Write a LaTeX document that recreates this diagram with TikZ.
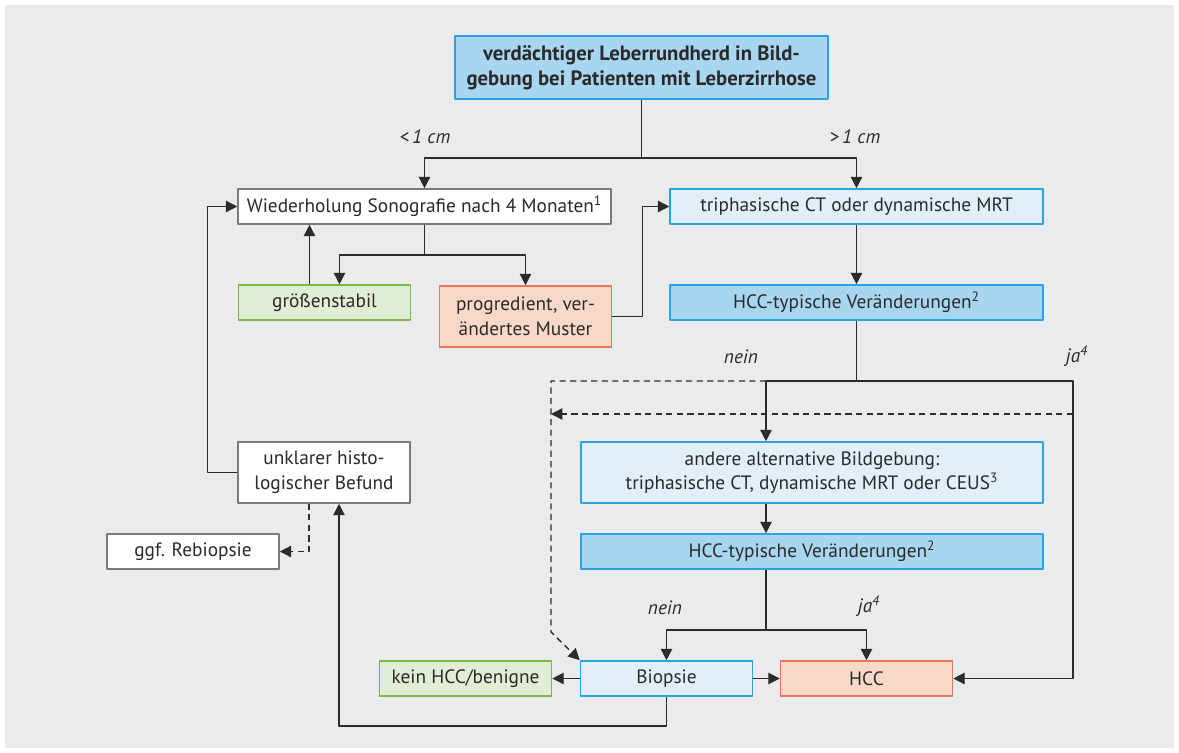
\documentclass[tikz,border=0pt]{standalone}
\usepackage{fontspec}
\setmainfont{PT Sans}
\usepackage{xcolor}
\usetikzlibrary{arrows.meta, calc}

\definecolor{bggray}{HTML}{EBEBED}
\definecolor{txt}{HTML}{2A2A2A}
\definecolor{linecol}{HTML}{2B2B2B}
\definecolor{bluedark}{HTML}{A8D5F0}
\definecolor{bluelight}{HTML}{E1EFFA}
\definecolor{blueedge}{HTML}{2AA4DD}
\definecolor{greenfill}{HTML}{E2EDD5}
\definecolor{greenedge}{HTML}{7AB648}
\definecolor{orangefill}{HTML}{F8D9C7}
\definecolor{orangeedge}{HTML}{E8775A}
\definecolor{grayedge}{HTML}{7A7A7A}

\tikzset{
  box/.style={draw, line width=0.9pt, align=center, inner sep=2pt, text=txt,
    minimum height=0.7cm, font=\fontsize{11}{14}\selectfont},
  wide/.style={minimum width=7.46cm},
  small/.style={minimum width=3.44cm},
  boxdark/.style={box, fill=bluedark, draw=blueedge},
  boxlight/.style={box, fill=bluelight, draw=blueedge},
  boxwhite/.style={box, fill=white, draw=grayedge},
  boxgreen/.style={box, fill=greenfill, draw=greenedge},
  boxorange/.style={box, fill=orangefill, draw=orangeedge},
  conn/.style={line width=0.8pt, draw=linecol},
  arr/.style={conn, -{Triangle[length=6.5pt, width=6.5pt]}},
  dashline/.style={arr, dash pattern=on 3.5pt off 2.5pt},
  lbl/.style={text=txt, font=\itshape\fontsize{11}{12}\selectfont},
}

\begin{document}
\begin{tikzpicture}[x=0.02cm, y=-0.02cm, line join=round]
    \useasboundingbox (0,0) rectangle (1179,753);
    \fill[bggray] (5,5) rectangle (1174,748);

    % Boxes
    \node[boxdark, wide, minimum height=1.26cm, font=\bfseries\fontsize{11.8}{14.5}\selectfont] (verd) at (641.5,67.5)
        {verdächtiger Leberrundherd in Bild-\\gebung bei Patienten mit Leberzirrhose};
    \node[boxwhite, wide] (wdh) at (424.5,206.5) {Wiederholung Sonografie nach 4 Monaten\textsuperscript{1}};
    \node[boxlight, wide] (tri) at (856.5,206.5) {triphasische CT oder dynamische MRT};
    \node[boxgreen, small] (stabil) at (324.5,302.5) {größenstabil};
    \node[boxorange, small, minimum height=1.22cm] (prog) at (525.5,316.5) {progredient, ver-\\ändertes Muster};
    \node[boxdark, wide] (typ1) at (856.5,302.5) {HCC-typische Veränderungen\textsuperscript{2}};
    \node[boxwhite, small, minimum height=1.22cm] (unkl) at (324,472.5) {unklarer histo-\\logischer Befund};
    \node[boxwhite, small] (rebio) at (193,551.5) {ggf. Rebiopsie};
    \node[boxlight, minimum width=9.24cm, minimum height=1.22cm] (alt) at (812,472.5)
        {andere alternative Bildgebung:\\triphasische CT, dynamische MRT oder CEUS\textsuperscript{3}};
    \node[boxdark, minimum width=9.24cm] (typ2) at (812,551.5) {HCC-typische Veränderungen\textsuperscript{2}};
    \node[boxgreen, small] (kein) at (465.5,678.5) {kein HCC/benigne};
    \node[boxlight, small] (biop) at (666.5,678.5) {Biopsie};
    \node[boxorange, small] (hcc) at (866.5,678.5) {HCC};

    % Junctions
    \coordinate (s1) at (641.5,158);
    \coordinate (s2) at (424.5,255);
    \coordinate (s3) at (856.5,381);
    \coordinate (a1) at (766,381);
    \coordinate (j1) at (1073,381);
    \coordinate (s4) at (766,630);
    \coordinate (b1) at (666.5,726);
    \coordinate (d1) at (551,381);
    \coordinate (d2) at (551,632);
    \coordinate (d3) at (1073,414);
    \coordinate (d4) at (551,414);

    % Size split
    \draw[conn] (verd.south) -- (s1);
    \draw[arr] (s1) -| (wdh.north);
    \draw[arr] (s1) -| (tri.north);
    \node[lbl] (lt) at (425,137) {<\,1 cm};
    \node[lbl] (gt) at (855,137) {>\,1 cm};

    % Sonography loop
    \draw[conn] (wdh.south) -- (s2);
    \draw[arr] (s2) -| ([xshift=0.3cm]stabil.north);
    \draw[arr] (s2) -| (prog.north);
    \draw[arr] ([xshift=-0.3cm]stabil.north) -- ([xshift=-0.3cm]stabil.north |- wdh.south);
    \draw[arr] (prog.east) -- ++(30,0) |- (tri.west);
    \draw[arr] (tri) -- (typ1);

    % First imaging result
    \draw[conn] (typ1.south) -- (s3) -- (a1);
    \draw[arr] (a1) -- (a1 |- alt.north);
    \draw[arr] (s3) -- (j1) |- (hcc.east);
    \draw[dashline] (a1) -- (d1) -- (d2) -- (biop.north west);
    \draw[dashline] (d3) -- (d4);
    \node[lbl] (nein1) at (741,357) {nein};
    \node[lbl] (ja1) at (1077,356) {ja\textsuperscript{4}};

    % Second imaging result
    \draw[arr] (alt.south -| a1) -- (typ2.north -| a1);
    \draw[conn] (typ2.south -| a1) -- (s4);
    \draw[arr] (s4) -| (biop.north);
    \draw[arr] (s4) -| (hcc.north);
    \node[lbl] (nein2) at (665,608) {nein};
    \node[lbl] (ja2) at (869,606) {ja\textsuperscript{4}};

    % Biopsy
    \draw[arr] (biop) -- (kein);
    \draw[arr] (biop) -- (hcc);
    \draw[arr] (biop.south) -- (b1) -| ([xshift=0.3cm]unkl.south);
    \draw[arr] (unkl.west) -- ++(-30,0) |- (wdh.west);
    \draw[dashline] ([xshift=-0.3cm]unkl.south) |- (rebio.east);
\end{tikzpicture}
\end{document}
